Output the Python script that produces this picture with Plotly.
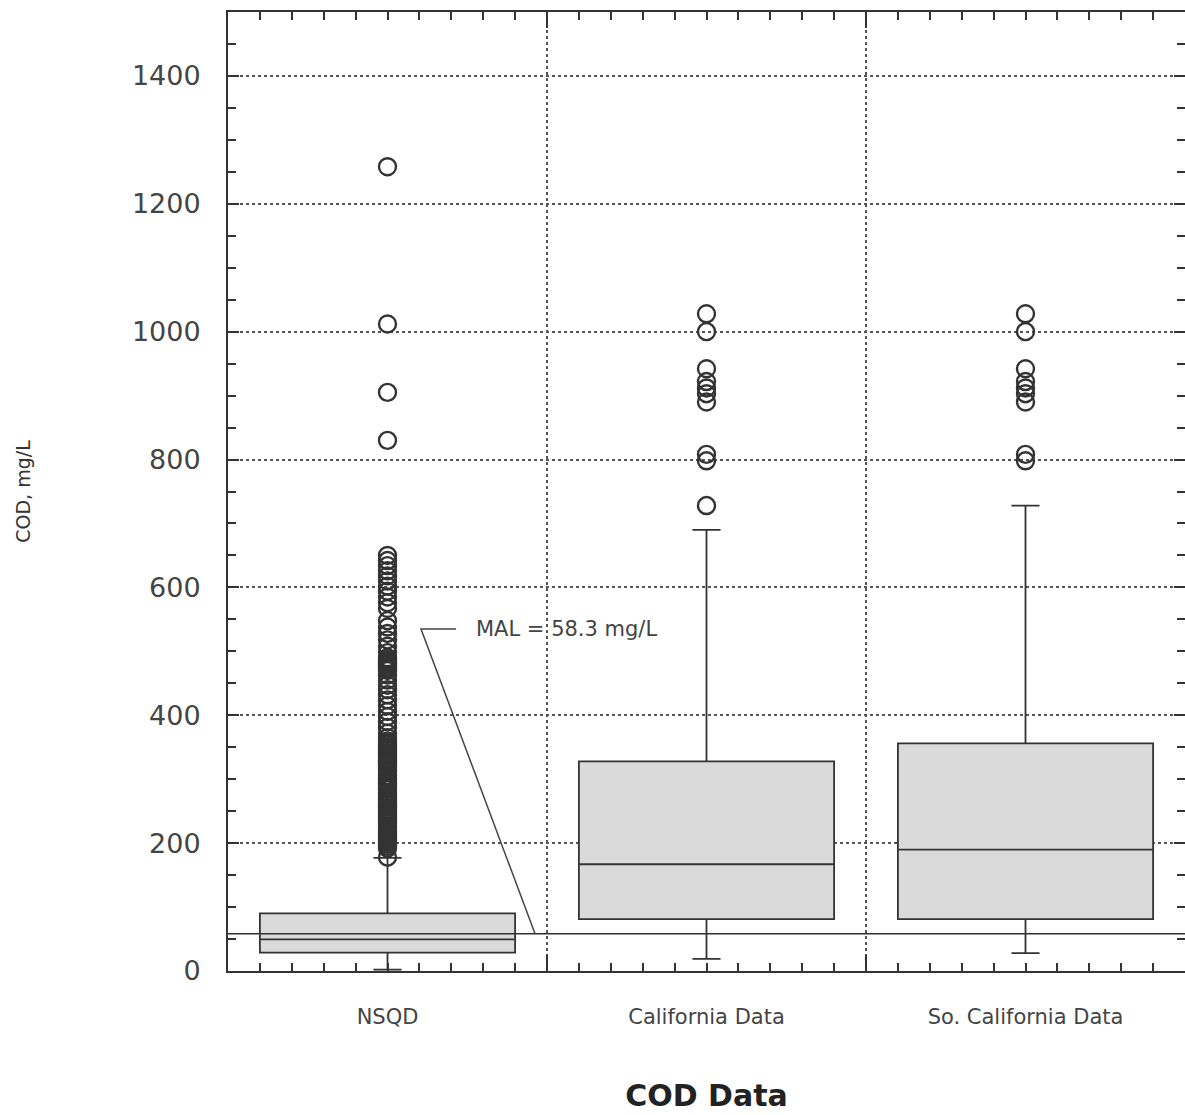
import plotly.graph_objects as go

# ---------------- data ----------------
categories = ["NSQD", "California Data", "So. California Data"]
positions = [0, 1, 2]
q1 = [28.6, 81, 81]
median = [49.5, 167, 190]
q3 = [90, 328, 356]
lowerfence = [2, 19, 28]
upperfence = [177, 690, 728]

nsqd_outliers = [1258, 1012, 905, 830,
                 650, 642, 634, 626, 618, 610, 602, 594, 585, 576, 567,
                 548, 538, 528, 518, 508, 498,
                 490, 487, 484, 481, 478, 475, 472, 470,
                 463, 455, 447, 440, 432,
                 424, 415, 406, 398, 390, 381, 372, 365,
                 360, 357, 354, 351, 348, 345, 342, 339, 336, 333, 330, 327, 324, 320, 316,
                 312, 306, 302, 299, 296, 293, 290, 287, 284, 278, 274, 271, 268, 265, 262, 259,
                 256, 253, 250, 247, 244, 241, 238, 235, 232, 226, 222, 219, 216, 213, 210, 207,
                 204, 201, 198, 195, 192, 178]
cal_outliers = [1028, 1000, 942, 922, 912, 903, 890, 808, 798, 728]
socal_outliers = [1028, 1000, 942, 922, 912, 903, 890, 808, 798]

mal_value = 58.3
mal_label = "MAL = 58.3 mg/L"
# leader line of the MAL callout (data coords)
leader_x = [0.215, 0.105, 0.4625]
leader_y = [535, 535, mal_value]
label_pos = (0.27, 535)

y_ticks = [0, 200, 400, 600, 800, 1000, 1200, 1400]
y_range = [0, 1500]
x_range = [-0.5, 2.5]
boundaries = [0.5, 1.5]

# ---------------- style ----------------
INK = "#333333"
TXT = "#444444"
FONT = "DejaVu Sans"

fig = go.Figure()

fig.add_trace(go.Box(
    x=positions, q1=q1, median=median, q3=q3,
    lowerfence=lowerfence, upperfence=upperfence,
    orientation="v", width=0.8, whiskerwidth=0.11,
    fillcolor="#dadada", line=dict(color=INK, width=1.8),
    boxpoints=False, showlegend=False, hoverinfo="skip",
))

ox = [positions[0]] * len(nsqd_outliers) + [positions[1]] * len(cal_outliers) + [positions[2]] * len(socal_outliers)
oy = nsqd_outliers + cal_outliers + socal_outliers
fig.add_trace(go.Scatter(
    x=ox, y=oy, mode="markers",
    marker=dict(symbol="circle-open", size=17, color=INK, line=dict(width=2.4, color=INK)),
    showlegend=False, hoverinfo="skip",
))

fig.add_trace(go.Scatter(
    x=leader_x, y=leader_y, mode="lines",
    line=dict(color=TXT, width=1.5), showlegend=False, hoverinfo="skip",
))

# invisible trace to activate overlay axis for boundary gridlines
fig.add_trace(go.Scatter(x=[None], y=[None], xaxis="x2", showlegend=False, hoverinfo="skip"))

fig.add_shape(type="line", xref="paper", x0=0, x1=1, yref="y", y0=mal_value, y1=mal_value,
              line=dict(color=INK, width=1.5), layer="above")

fig.add_annotation(x=label_pos[0], y=label_pos[1], text=mal_label, showarrow=False,
                   xanchor="left", yanchor="middle",
                   font=dict(family=FONT, size=21, color=TXT))

fig.update_layout(
    width=1185, height=1115,
    margin=dict(l=228, r=0, t=12, b=144, autoexpand=False),
    paper_bgcolor="white", plot_bgcolor="white",
    xaxis=dict(
        range=x_range, tickmode="array", tickvals=positions, ticktext=categories,
        ticks="inside", ticklen=8, tickwidth=1.5, tickcolor=INK,
        minor=dict(dtick=0.1, tick0=0, ticks="inside", ticklen=8, tickwidth=1.5, tickcolor=INK),
        showline=True, linecolor=INK, linewidth=2, mirror="ticks",
        showgrid=False, zeroline=False,
        tickfont=dict(family=FONT, size=21, color=TXT),
        ticklabelstandoff=26,
        title=dict(text="<b>COD Data</b>", font=dict(family=FONT, size=30, color="#222222"), standoff=57),
    ),
    xaxis2=dict(
        overlaying="x", range=x_range, tickmode="array", tickvals=boundaries,
        showticklabels=False, ticks="inside", ticklen=16, tickwidth=1.5, tickcolor=INK,
        showgrid=True, gridcolor="#555555", gridwidth=1.5, griddash="dot",
        showline=False, zeroline=False, side="bottom", mirror="ticks",
    ),
    yaxis=dict(
        range=y_range, tickmode="array", tickvals=y_ticks,
        ticks="inside", ticklen=11, tickwidth=1.5, tickcolor=INK,
        minor=dict(dtick=50, ticks="inside", ticklen=8, tickwidth=1.5, tickcolor=INK),
        showline=True, linecolor=INK, linewidth=2, mirror="ticks",
        showgrid=True, gridcolor="#555555", gridwidth=1.5, griddash="dot",
        zeroline=False,
        tickfont=dict(family=FONT, size=27, color=TXT),
        ticklabelstandoff=20,
        title=dict(text="COD, mg/L", font=dict(family=FONT, size=19, color="#333333"), standoff=96),
    ),
)

fig.write_html(
    "out.html",
    config={"displayModeBar": False},
    post_script="document.body.style.margin='0';document.body.style.overflow='hidden';",
)
